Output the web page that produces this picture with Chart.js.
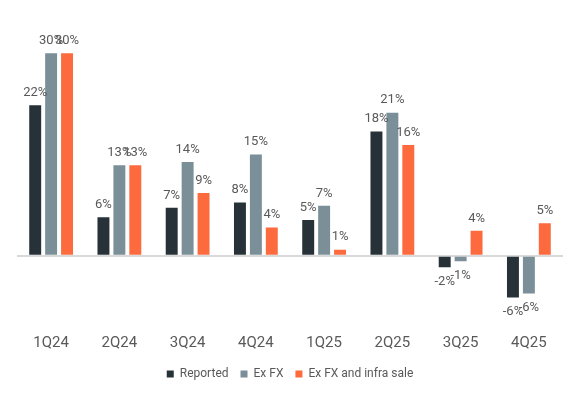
<!DOCTYPE html>
<html>
<head>
<meta charset="utf-8">
<script src="https://cdn.jsdelivr.net/npm/chart.js@4.4.1/dist/chart.umd.min.js"></script>
<style>
  html, body { margin: 0; padding: 0; background: #fff; }
  #wrap { width: 580px; height: 394px; }
</style>
</head>
<body>
<div id="wrap"><canvas id="growth"></canvas></div>
<script>
const quarters = ["1Q24", "2Q24", "3Q24", "4Q24", "1Q25", "2Q25", "3Q25", "4Q25"];
const reported = [22.3, 5.7, 7.1, 7.9, 5.3, 18.4, -1.7, -6.2];
const exFx = [30.0, 13.4, 13.9, 15.0, 7.4, 21.2, -0.8, -5.6];
const exFxInfra = [30.0, 13.4, 9.3, 4.2, 0.9, 16.4, 3.7, 4.8];

const textGrey = "#595959";

// draws the % labels above (or below) each bar
const barLabels = {
  id: "barLabels",
  afterDatasetsDraw(chart) {
    const c = chart.ctx;
    c.save();
    c.font = "13px Roboto";
    c.fillStyle = textGrey;
    c.textAlign = "center";
    chart.data.datasets.forEach((ds, i) => {
      const meta = chart.getDatasetMeta(i);
      meta.data.forEach((bar, j) => {
        const v = ds.data[j];
        const txt = Math.round(v) + "%";
        if (v >= 0) {
          c.textBaseline = "bottom";
          c.fillText(txt, bar.x, bar.y - 6);
        } else {
          c.textBaseline = "top";
          c.fillText(txt, bar.x, bar.y + 8);
        }
      });
    });
    c.restore();
  }
};

new Chart(document.getElementById("growth"), {
  type: "bar",
  data: {
    labels: quarters,
    datasets: [
      { label: "Reported", data: reported, backgroundColor: "#263238" },
      { label: "Ex FX", data: exFx, backgroundColor: "#7a8f97" },
      { label: "Ex FX and infra sale", data: exFxInfra, backgroundColor: "#fd6a3e" }
    ]
  },
  options: {
    responsive: true,
    maintainAspectRatio: false,
    animation: false,
    categoryPercentage: 0.7,
    barPercentage: 0.75,
    layout: { padding: { left: 17, right: 17, top: 19.5, bottom: 4 } },
    plugins: {
      tooltip: { enabled: false },
      legend: {
        position: "bottom",
        labels: {
          boxWidth: 7,
          boxHeight: 7,
          padding: 12,
          color: textGrey,
          font: { family: "Roboto", size: 12 }
        }
      }
    },
    scales: {
      x: {
        grid: { display: false, drawTicks: false },
        border: { display: false },
        ticks: { color: textGrey, font: { family: "Roboto", size: 15, lineHeight: 0.7 }, padding: 21 },
        afterFit: (scale) => { scale.height = 39.5; }
      },
      y: {
        min: -9,
        max: 35,
        border: { display: false },
        grid: {
          drawTicks: false,
          lineWidth: 2,
          color: (ctx) => (ctx.tick && ctx.tick.value === 0 ? "#d9d9d9" : "rgba(0,0,0,0)")
        },
        ticks: { display: false, stepSize: 1 }
      }
    }
  },
  plugins: [barLabels]
});
</script>
</body>
</html>
